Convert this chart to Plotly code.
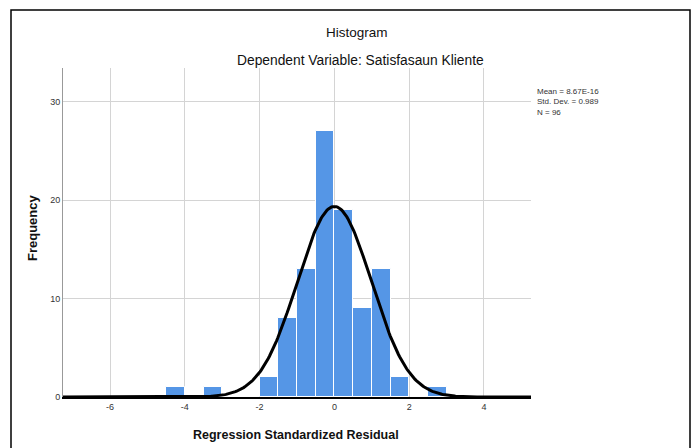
import numpy as np
import plotly.graph_objects as go

# Data
bin_left = [-4.5, -3.5, -2.0, -1.5, -1.0, -0.5, 0.0, 0.5, 1.0, 1.5, 2.5]
counts = [1, 1, 2, 8, 13, 27, 19, 9, 13, 2, 1]
bin_width = 0.5
mean_val = 8.67e-16
std_val = 0.989
n_val = 96
x_ticks = [-6, -4, -2, 0, 2, 4]
y_ticks = [0, 10, 20, 30]
stat_lines = ["Mean = 8.67E-16", f"Std. Dev. = {std_val}", f"N = {n_val}"]

W, H = 694, 448
L, R, T, B = 63, 531, 68, 397

centers = [b + bin_width / 2 for b in bin_left]

xr = [-7.257, 5.257]
xs = np.linspace(xr[0], xr[1], 400)
ys = n_val * bin_width / (std_val * np.sqrt(2 * np.pi)) * np.exp(-0.5 * ((xs - mean_val) / std_val) ** 2)

fig = go.Figure()
fig.add_trace(go.Bar(x=centers, y=counts, width=bin_width,
                     marker=dict(color="#5596e6", line=dict(color="white", width=1)),
                     hoverinfo="skip"))
fig.add_trace(go.Scatter(x=xs, y=ys, mode="lines",
                         line=dict(color="black", width=3), hoverinfo="skip"))

def px(p):
    return (p - L) / (R - L)

def py(p):
    return (B - p) / (B - T)

annots = [
    dict(text="Histogram", xref="paper", yref="paper", x=px(357), y=py(32),
         showarrow=False, font=dict(size=13.5, color="#111"), xanchor="center", yanchor="middle"),
    dict(text="Dependent Variable: Satisfasaun Kliente", xref="paper", yref="paper",
         x=px(360), y=py(60), showarrow=False, font=dict(size=13.8, color="#111"),
         xanchor="center", yanchor="middle"),
    dict(text="Regression Standardized Residual", xref="paper", yref="paper",
         x=px(296), y=py(435), showarrow=False, font=dict(size=12.5, color="#111", weight="bold"),
         xanchor="center", yanchor="middle"),
    dict(text="Frequency", xref="paper", yref="paper", textangle=-90,
         x=px(33), y=py(228), showarrow=False, font=dict(size=13, color="#111", weight="bold"),
         xanchor="center", yanchor="middle"),
    dict(text="<br>".join(stat_lines), xref="paper", yref="paper", x=px(535), y=py(85),
         showarrow=False, xanchor="left", yanchor="top", align="left",
         font=dict(size=8, color="#333")),
]

fig.update_layout(
    width=W, height=H,
    margin=dict(l=L, r=W - R, t=T, b=H - B, pad=0),
    paper_bgcolor="white", plot_bgcolor="white",
    showlegend=False, bargap=0,
    font=dict(family="Liberation Sans, Arial, sans-serif", color="#222"),
    xaxis=dict(range=xr, tickvals=x_ticks, ticktext=[str(v) for v in x_ticks],
               showgrid=True, gridcolor="#d4d4d4", gridwidth=1,
               zeroline=False, showline=True, linecolor="black", linewidth=2,
               ticks="", tickfont=dict(size=9, color="#333")),
    yaxis=dict(range=[0, 33.43], tickvals=y_ticks, ticktext=[str(v) for v in y_ticks],
               showgrid=True, gridcolor="#d4d4d4", gridwidth=1,
               zeroline=False, showline=True, linecolor="#999", linewidth=1,
               ticks="", tickfont=dict(size=9, color="#333")),
    shapes=[dict(type="rect", xref="paper", yref="paper",
                 x0=px(11), x1=px(690), y0=py(460), y1=py(10),
                 line=dict(color="black", width=1.5), fillcolor="rgba(0,0,0,0)",
                 layer="below")],
    annotations=annots,
)

fig.write_html("out.html", config={"displayModeBar": False},
               post_script="document.body.style.margin='0';")
